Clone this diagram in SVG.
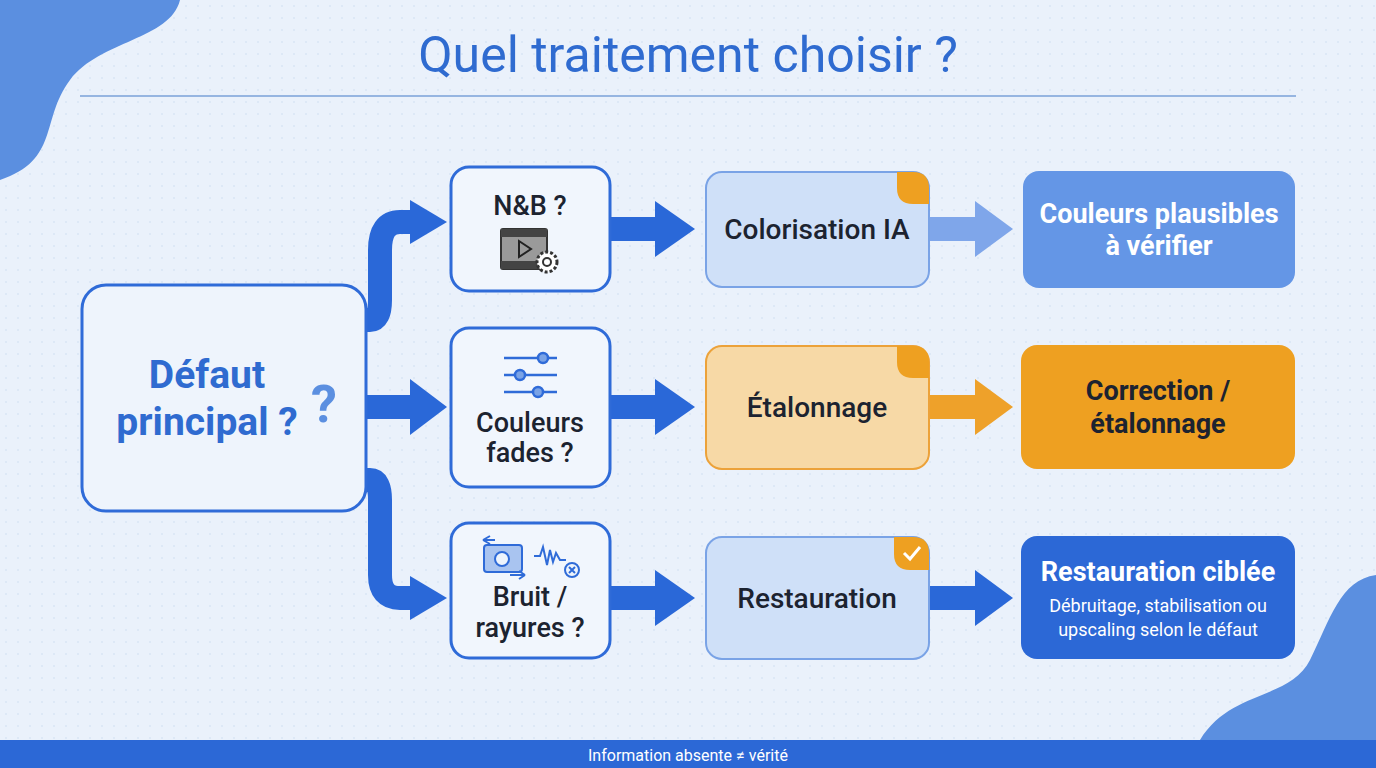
<svg xmlns="http://www.w3.org/2000/svg" width="1376" height="768" viewBox="0 0 1376 768">
<defs>
<pattern id="dots" width="12" height="12" patternUnits="userSpaceOnUse"><circle cx="6" cy="6" r="1" fill="#c9d8ee"/></pattern>
<style>
text{font-family:Roboto,"Liberation Sans",sans-serif}
.q{fill:#f1f6fd;stroke:#2f6bd8;stroke-width:3}
.qt{font-size:27px;font-weight:500;fill:#1c2330;text-anchor:middle}
.at{font-size:28px;font-weight:500;fill:#1c2330;text-anchor:middle}
.rt{font-size:27px;font-weight:700;text-anchor:middle}
.conn{fill:none;stroke:#2a68d8;stroke-width:24}
</style>
</defs>
<rect width="1376" height="768" fill="#eaf1fb"/>
<rect x="0" y="0" width="1376" height="740" fill="url(#dots)" opacity="0.5"/>
<path d="M0 0 H180 C170 40 100 40 70 80 C40 120 60 160 0 180 Z" fill="#5b8fe0"/>
<path d="M1376 575 C1340 580 1330 620 1310 660 C1290 700 1230 690 1200 740 H1376 Z" fill="#5b8fe0"/>
<text x="688" y="72" font-size="50" fill="#2f6bd0" text-anchor="middle">Quel traitement choisir ?</text>
<line x1="80" y1="96" x2="1296" y2="96" stroke="#7aa0d8" stroke-width="1.5"/>

<g id="connectors">
<path class="conn" d="M366 320 H370 Q380 320 380 300 V250 Q380 222 400 222 H412"/>
<polygon points="410,200 447,222 410,244" fill="#2a68d8"/>
<rect x="366" y="395" width="50" height="24" fill="#2a68d8"/>
<polygon points="410,379 447,407 410,435" fill="#2a68d8"/>
<path class="conn" d="M366 480 H370 Q380 480 380 500 V575 Q380 598 400 598 H412"/>
<polygon points="410,576 447,598 410,620" fill="#2a68d8"/>
<g fill="#2a68d8">
<rect x="610" y="217" width="50" height="24"/><polygon points="655,201 695,229 655,257"/>
<rect x="610" y="395" width="50" height="24"/><polygon points="655,379 695,407 655,435"/>
<rect x="610" y="586" width="50" height="24"/><polygon points="655,570 695,598 655,626"/>
<rect x="929" y="586" width="50" height="24"/><polygon points="975,570 1013,598 975,626"/>
</g>
<rect x="929" y="217" width="50" height="24" fill="#7fa6ea"/><polygon points="975,201 1013,229 975,257" fill="#7fa6ea"/>
<rect x="929" y="395" width="50" height="24" fill="#eea12a"/><polygon points="975,379 1013,407 975,435" fill="#eea12a"/>
</g>

<g id="main">
<rect x="82" y="285" width="284" height="226" rx="24" fill="#eef4fc" stroke="#2f6bd8" stroke-width="3"/>
<text x="207" y="388" font-size="39" font-weight="700" fill="#2f6bd0" text-anchor="middle">Défaut</text>
<text x="207" y="435" font-size="39" font-weight="700" fill="#2f6bd0" text-anchor="middle">principal ?</text>
<text x="324" y="422" font-size="52" font-weight="700" fill="#5b8fe0" text-anchor="middle">?</text>
</g>

<g id="q1">
<rect class="q" x="451" y="167" width="159" height="124" rx="18"/>
<text class="qt" x="530" y="215">N&amp;B ?</text>
<rect x="501" y="229" width="46" height="40" rx="2" fill="#9a9a9a" stroke="#333" stroke-width="2"/>
<rect x="501" y="229" width="46" height="8" fill="#444"/><rect x="501" y="261" width="46" height="8" fill="#444"/>
<polygon points="519,241 531,249 519,257" fill="none" stroke="#222" stroke-width="2"/>
<circle cx="547" cy="262" r="10" fill="#fff" stroke="#333" stroke-width="3" stroke-dasharray="3 2"/>
<circle cx="547" cy="262" r="4" fill="none" stroke="#333" stroke-width="2"/>
</g>
<g id="q2">
<rect class="q" x="451" y="328" width="159" height="159" rx="18"/>
<g stroke="#2f6bd8" stroke-width="2.5" fill="#7aa3e6">
<line x1="504" y1="358" x2="557" y2="358"/><line x1="504" y1="375" x2="557" y2="375"/><line x1="504" y1="392" x2="557" y2="392"/>
<circle cx="543" cy="358" r="5"/><circle cx="520" cy="375" r="5"/><circle cx="538" cy="392" r="5"/>
</g>
<text class="qt" x="530" y="432">Couleurs</text>
<text class="qt" x="530" y="462">fades ?</text>
</g>
<g id="q3">
<rect class="q" x="451" y="523" width="159" height="135" rx="18"/>
<g stroke="#2f6bd8" stroke-width="2" fill="#a9c4f0">
<rect x="484" y="545" width="38" height="27" rx="3"/><circle cx="502" cy="559" r="7" fill="#eef4fc"/>
<path d="M483 540 L490 536 M483 540 L490 544 M483 540 H495" fill="none"/>
<path d="M525 575 H510 M525 575 L519 571 M525 575 L519 579" fill="none"/>
<path d="M534 556 H540 L543 547 L547 565 L550 550 L553 562 L556 553 L560 560 H566" fill="none"/>
<circle cx="572" cy="570" r="7" fill="#eef4fc"/>
<path d="M569 567 L575 573 M575 567 L569 573" fill="none"/>
</g>
<text class="qt" x="530" y="606">Bruit /</text>
<text class="qt" x="530" y="637">rayures ?</text>
</g>

<g id="a1">
<rect x="706" y="172" width="223" height="115" rx="16" fill="#cfe0f8" stroke="#7aa3e6" stroke-width="2"/>
<path d="M897 172 H913 Q929 172 929 188 V204 H913 Q897 204 897 188 Z" fill="#eea021"/>
<text class="at" x="817" y="239">Colorisation IA</text>
</g>
<g id="a2">
<rect x="706" y="346" width="223" height="123" rx="16" fill="#f7d9a6" stroke="#eca23a" stroke-width="2"/>
<path d="M897 346 H913 Q929 346 929 362 V378 H913 Q897 378 897 362 Z" fill="#eea021"/>
<text class="at" x="817" y="417">Étalonnage</text>
</g>
<g id="a3">
<rect x="706" y="537" width="223" height="122" rx="16" fill="#cfe0f8" stroke="#7aa3e6" stroke-width="2"/>
<path d="M894 537 H913 Q929 537 929 553 V570 H910 Q894 570 894 554 Z" fill="#eea021"/>
<path d="M904 553 L910 559 L920 547" fill="none" stroke="#fff" stroke-width="3"/>
<text class="at" x="817" y="608">Restauration</text>
</g>

<g id="r1">
<rect x="1023" y="171" width="272" height="117" rx="16" fill="#6496e6"/>
<text class="rt" x="1159" y="223" fill="#fff">Couleurs plausibles</text>
<text class="rt" x="1159" y="255" fill="#fff">à vérifier</text>
</g>
<g id="r2">
<rect x="1021" y="345" width="274" height="124" rx="16" fill="#eea021"/>
<text class="rt" x="1158" y="400" fill="#1c2330" font-weight="500">Correction /</text>
<text class="rt" x="1158" y="433" fill="#1c2330" font-weight="500">étalonnage</text>
</g>
<g id="r3">
<rect x="1021" y="536" width="274" height="123" rx="16" fill="#2c68d6"/>
<text class="rt" x="1158" y="581" fill="#fff">Restauration ciblée</text>
<text x="1158" y="612" font-size="18" fill="#fff" text-anchor="middle">Débruitage, stabilisation ou</text>
<text x="1158" y="636" font-size="18" fill="#fff" text-anchor="middle">upscaling selon le défaut</text>
</g>

<rect x="0" y="740" width="1376" height="28" fill="#2c68d6"/>
<text x="688" y="761" font-size="16" fill="#fff" text-anchor="middle">Information absente ≠ vérité</text>
</svg>
